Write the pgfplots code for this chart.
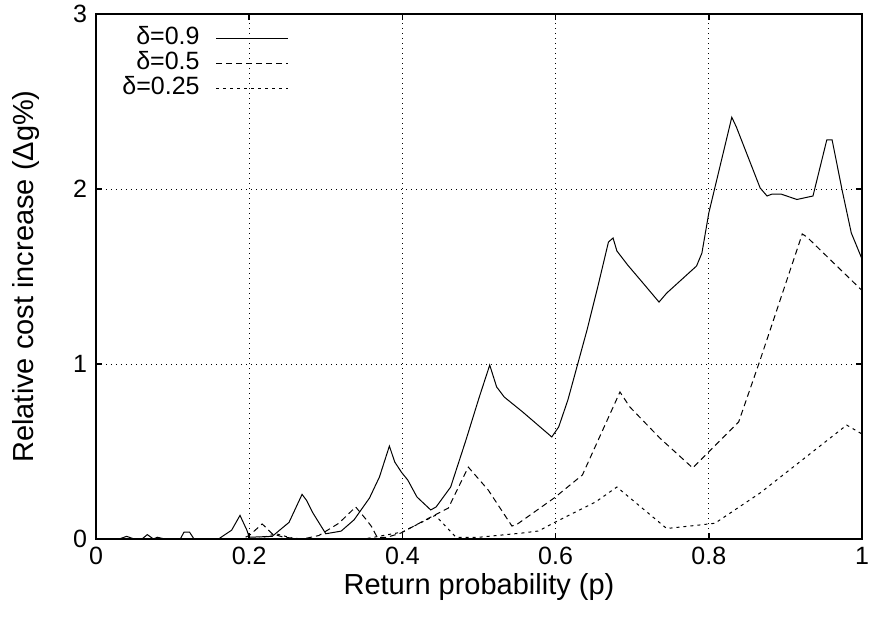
\documentclass[border=0pt]{standalone}
\usepackage{fontspec}
\setmainfont{Liberation Sans}
\usepackage{pgfplots}
\pgfplotsset{compat=1.18}

\begin{document}
\begin{tikzpicture}[font=\fontsize{12.5}{15}\selectfont]
\begin{axis}[
    scale only axis,
    width=383pt, height=262.5pt,
    xmin=0, xmax=1, ymin=0, ymax=3,
    xtick={0,0.2,0.4,0.6,0.8,1},
    ytick={0,1,2,3},
    /pgf/number format/assume math mode=true,
    ticklabel style={font=\fontsize{12.5}{15}\selectfont},
    xticklabel style={yshift=-0.5pt},
    yticklabel style={xshift=-1pt},
    tick align=inside,
    major tick length=3pt,
    tick style={black, line width=0.8pt},
    axis line style={line width=0.8pt},
    grid=major,
    major grid style={black, line width=0.4pt, dash pattern=on 0.5pt off 2pt},
    xlabel={Return probability (p)},
    ylabel={Relative cost increase (Δg\%)},
    label style={font=\fontsize{14.5}{17}\selectfont},
    xlabel style={yshift=2.5pt},
    ylabel style={yshift=10pt},
    legend cell align=right,
    legend plot pos=right,
    legend image code/.code={\draw[#1] (0pt,0pt) -- (36pt,0pt);},
    legend style={draw=none, fill=none, at={(0,1)}, anchor=north west,
        xshift=9pt, yshift=-4pt, row sep=0pt, column sep=7pt,
        font=\fontsize{12.5}{15}\selectfont,
        nodes={inner sep=1pt, text height=8pt, text depth=2.5pt}},
]
\addplot[black, line width=0.5pt] coordinates {
(0,0) (0.03,0) (0.04,0.015) (0.05,0) (0.06,0) (0.067,0.025) (0.075,0)
(0.08,0.01) (0.09,0) (0.11,0) (0.115,0.04) (0.122,0.04) (0.128,0)
(0.16,0) (0.165,0.015) (0.177,0.05) (0.188,0.135) (0.197,0.05) (0.2,0.01)
(0.23,0.015) (0.252,0.095) (0.269,0.255) (0.275,0.22) (0.283,0.15)
(0.300,0.03) (0.32,0.045) (0.337,0.11) (0.357,0.234) (0.37,0.354)
(0.383,0.531) (0.39,0.44) (0.399,0.38) (0.407,0.337) (0.419,0.24)
(0.437,0.166) (0.444,0.183) (0.463,0.297) (0.483,0.566) (0.5,0.806)
(0.514,0.994) (0.523,0.869) (0.533,0.811) (0.557,0.726) (0.595,0.583)
(0.604,0.64) (0.616,0.794) (0.641,1.194) (0.655,1.44) (0.669,1.697)
(0.675,1.72) (0.680,1.646) (0.694,1.566) (0.714,1.463) (0.735,1.354)
(0.745,1.405) (0.784,1.56) (0.791,1.634) (0.8,1.863) (0.830,2.41)
(0.836,2.354) (0.867,2.006) (0.876,1.96) (0.882,1.97) (0.895,1.97)
(0.915,1.94) (0.936,1.96) (0.954,2.28) (0.961,2.28) (0.974,1.994)
(0.986,1.749) (1,1.6)
};
\addlegendentry{δ=0.9}
\addplot[black, line width=0.5pt, dash pattern=on 3pt off 2pt] coordinates {
(0,0) (0.19,0) (0.2,0.02) (0.217,0.086) (0.23,0.03) (0.245,0.01)
(0.27,0) (0.291,0.02) (0.317,0.09) (0.339,0.183) (0.353,0.11)
(0.36,0.069) (0.367,0.01) (0.38,0.01) (0.398,0.034) (0.43,0.109)
(0.46,0.177) (0.486,0.411) (0.512,0.28) (0.543,0.074) (0.55,0.085)
(0.598,0.234) (0.635,0.366) (0.684,0.84) (0.697,0.754) (0.736,0.577)
(0.779,0.406) (0.839,0.669) (0.867,1.023) (0.922,1.743) (0.928,1.726)
(1,1.42)
};
\addlegendentry{δ=0.5}
\addplot[black, line width=0.5pt, dash pattern=on 1.5pt off 2pt] coordinates {
(0,0) (0.21,0) (0.235,0.03) (0.26,0) (0.35,0) (0.4,0.04) (0.443,0.135)
(0.47,0.01) (0.5,0.01) (0.556,0.034) (0.578,0.046) (0.597,0.091)
(0.652,0.211) (0.680,0.297) (0.745,0.06) (0.788,0.08) (0.808,0.09)
(0.867,0.263) (0.98,0.651) (1,0.6)
};
\addlegendentry{δ=0.25}
\end{axis}
\pgfresetboundingbox
\path[use as bounding box] ([xshift=-48pt,yshift=-40.5pt]current axis.south west)
    rectangle ([xshift=4.5pt,yshift=7pt]current axis.north east);
\end{tikzpicture}
\end{document}
